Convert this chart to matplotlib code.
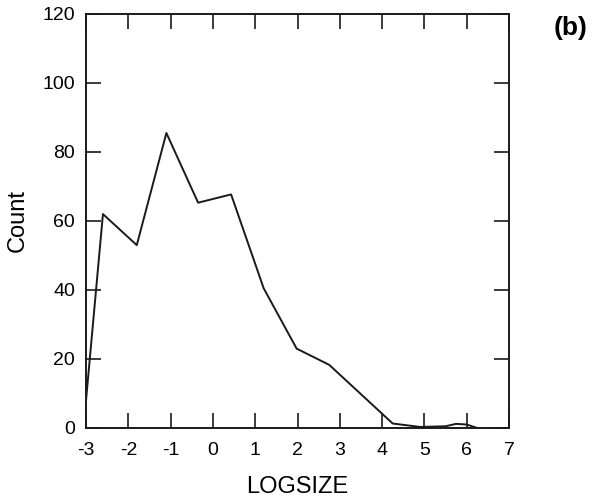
import matplotlib
matplotlib.use("Agg")
import matplotlib.pyplot as plt

plt.rcParams['font.family'] = ['Liberation Sans', 'DejaVu Sans']

# frequency polygon of log size classes
logsize = [-3.0, -2.6, -1.8, -1.1, -0.35, 0.43, 1.2, 1.98, 2.75, 4.25, 4.9, 5.5, 5.75, 6.0, 6.25]
count = [8, 62, 53, 85.5, 65.3, 67.7, 40.5, 23, 18.3, 1.3, 0.3, 0.5, 1.2, 1.0, 0]

xticks = [-3, -2, -1, 0, 1, 2, 3, 4, 5, 6, 7]
yticks = [0, 20, 40, 60, 80, 100, 120]

fig = plt.figure(figsize=(5.92, 4.99), dpi=100)
ax = fig.add_axes([0.1453, 0.1423, 0.7145, 0.8297])

ax.plot(logsize, count, color="#1a1a1a", lw=1.4)

ax.set_xlim(-3, 7)
ax.set_ylim(0, 120)
ax.set_xticks(xticks)
ax.set_yticks(yticks)
ax.set_xticklabels([str(t) for t in xticks])
ax.tick_params(direction="in", length=11, width=1.2, labelsize=14,
               top=True, right=True, pad=8, color="#1a1a1a")
ax.tick_params(axis="x", pad=10)
for s in ax.spines.values():
    s.set_linewidth(1.4)
    s.set_color("#1a1a1a")

ax.set_xlabel("LOGSIZE", fontsize=17, labelpad=12)
ax.set_ylabel("Count", fontsize=17, labelpad=10)

fig.text(0.9645, 0.944, "(b)", fontsize=19, fontweight="bold", ha="center", va="center")

fig.savefig("out.png", dpi=100)
